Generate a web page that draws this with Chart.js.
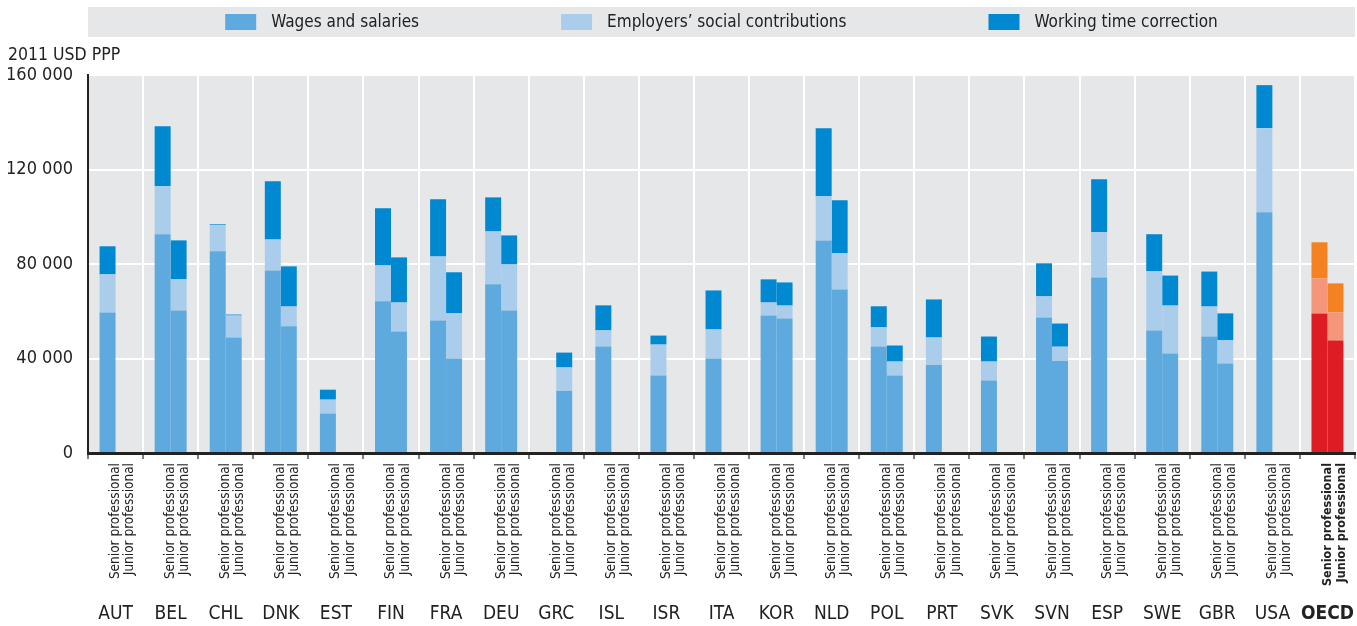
<!DOCTYPE html>
<html>
<head>
<meta charset="utf-8">
<script src="https://cdn.jsdelivr.net/npm/chart.js@4.4.1/dist/chart.umd.min.js"></script>
<style>
  html, body { margin: 0; padding: 0; background: #ffffff; }
  #wrap { width: 1357px; height: 626px; position: relative; }
</style>
</head>
<body>
<div id="wrap"><canvas id="c" width="1357" height="626"></canvas></div>
<script>
const countries = ['AUT','BEL','CHL','DNK','EST','FIN','FRA','DEU','GRC','ISL','ISR','ITA','KOR','NLD','POL','PRT','SVK','SVN','ESP','SWE','GBR','USA','OECD'];
const barLabels = ['Senior professional', 'Junior professional'];
const seriesNames = ['Wages and salaries', 'Employers\u2019 social contributions', 'Working time correction'];
const unitLabel = '2011 USD PPP';
const yTickValues = [0, 40000, 80000, 120000, 160000];

const seniorWages  = [59500, 92600, 85400, 77300, 16700, 64200, 56100, 71400, null, 45100, 32800, 40000, 58200, 90000, 45100, 37400, 30700, 57400, 74300, 51900, 49300, 101900, 59100];
const seniorSocial = [16100, 20300, 11000, 13100,  5900, 15200, 27100, 22400, null,  6800, 13100, 12300,  5500, 18700,  8100, 11500,  8000,  8900, 19100, 25000, 12700,  35600, 14800];
const seniorWtc    = [11900, 25400,   400, 24600,  4200, 24200, 24200, 14400, null, 10600,  3800, 16500,  9800, 28800,  8900, 16100, 10600, 14000, 22500, 15700, 14800,  18200, 15300];
const juniorWages  = [null, 60300, 48900, 53600, null, 51400, 40000, 60300, 26400, null, null, null, 56900, 69200, 32800, null, null, 39100, null, 42100, 37900, null, 47600];
const juniorSocial = [null, 13200,  9300,  8400, null, 12300, 19100, 19500,  9800, null, null, null,  5500, 15300,  5900, null, null,  5900, null, 20300,  9800, null, 11900];
const juniorWtc    = [null, 16500,   400, 17000, null, 19100, 17400, 12300,  6300, null, null, null,  9800, 22500,  6800, null, null,  9800, null, 12700, 11400, null, 12300];

const baseColors = ['#5ea9dd', '#abcdec', '#0089d0'];
const oecdColors = ['#dd1c24', '#f4967a', '#f58220'];
const FONT = '"DejaVu Sans Condensed", "Liberation Sans Narrow", sans-serif';

function colorsFor(i) {
  return countries.map(c => c === 'OECD' ? oecdColors[i] : baseColors[i]);
}
function fmt(v) {
  return String(v).replace(/\B(?=(\d{3})+(?!\d))/g, ' ');
}
const isLast = (ctx) => ctx.index === countries.length - 1;

const seniorSets = [seniorWages, seniorSocial, seniorWtc];
const juniorSets = [juniorWages, juniorSocial, juniorWtc];
const datasets = [];
seniorSets.forEach((d, i) => datasets.push({ label: seriesNames[i], data: d, stack: 'senior', backgroundColor: colorsFor(i), borderWidth: 0 }));
juniorSets.forEach((d, i) => datasets.push({ label: seriesNames[i], data: d, stack: 'junior', backgroundColor: colorsFor(i), borderWidth: 0 }));

const bgPlugin = {
  id: 'plotBg',
  beforeDraw(chart) {
    const { ctx, chartArea: a } = chart;
    ctx.save();
    ctx.fillStyle = '#e6e7e9';
    ctx.fillRect(a.left, a.top, a.right - a.left, a.bottom - a.top);
    ctx.restore();
  },
  afterDraw(chart) {
    const { ctx, chartArea: a } = chart;
    ctx.save();
    ctx.fillStyle = '#e6e7e9';
    ctx.fillRect(a.left, 7, a.right - a.left, 30);
    ctx.font = '17px ' + FONT;
    ctx.textBaseline = 'middle';
    const boxW = 31, boxH = 16, gapBT = 15, gap = 142;
    const widths = seriesNames.map(n => boxW + gapBT + ctx.measureText(n).width);
    const total = widths.reduce((s, w) => s + w, 0) + gap * (seriesNames.length - 1);
    let x = (a.left + a.right) / 2 - total / 2;
    seriesNames.forEach((n, i) => {
      ctx.fillStyle = baseColors[i];
      ctx.fillRect(x, 22 - boxH / 2, boxW, boxH);
      ctx.fillStyle = '#222';
      ctx.fillText(n, x + boxW + gapBT, 23);
      x += widths[i] + gap;
    });
    ctx.textBaseline = 'alphabetic';
    ctx.font = '17.5px ' + FONT;
    ctx.fillStyle = '#222';
    ctx.fillText(unitLabel, 8, 60);
    ctx.restore();
  }
};

function noSidePadding(scale) {
  scale.paddingLeft = 0;
  scale.paddingRight = 0;
}

new Chart(document.getElementById('c'), {
  type: 'bar',
  data: { labels: countries, datasets },
  plugins: [bgPlugin],
  options: {
    responsive: false,
    animation: false,
    devicePixelRatio: 1,
    layout: { padding: { top: 75, left: 8, right: 2, bottom: 0 } },
    plugins: { legend: { display: false }, tooltip: { enabled: false }, title: { display: false } },
    datasets: { bar: { categoryPercentage: 0.58, barPercentage: 1.0 } },
    scales: {
      x: {
        stacked: true,
        offset: true,
        grid: { display: true, offset: true, color: '#ffffff', lineWidth: 2, drawTicks: true, tickLength: 6, tickColor: '#555', tickWidth: 1.5 },
        border: { display: true, color: '#222', width: 3 },
        afterFit(scale) { scale.height = 136; noSidePadding(scale); },
        ticks: {
          autoSkip: false, minRotation: 90, maxRotation: 90, padding: 4, color: '#222',
          callback: () => barLabels,
          font: (ctx) => isLast(ctx)
            ? { family: FONT, size: 12.5, lineHeight: 1.12, weight: 'bold' }
            : { family: FONT, size: 13.5, lineHeight: 1.05, weight: 'normal' }
        }
      },
      x2: {
        type: 'category',
        labels: countries,
        position: 'bottom',
        offset: true,
        grid: { display: false, drawTicks: false },
        border: { display: false },
        afterFit(scale) { scale.height = 37; noSidePadding(scale); },
        ticks: {
          autoSkip: false, maxRotation: 0, minRotation: 0, padding: 14, color: '#222',
          font: (ctx) => ({ family: FONT, size: 19, weight: isLast(ctx) ? 'bold' : 'normal' })
        }
      },
      y: {
        stacked: true,
        min: 0, max: 160000,
        afterBuildTicks(scale) { scale.ticks = yTickValues.map(v => ({ value: v })); },
        afterFit(scale) { scale.width = 80; },
        grid: { color: '#ffffff', lineWidth: 2, drawTicks: false },
        border: { display: true, color: '#222', width: 2 },
        ticks: { padding: 15, color: '#222', font: { family: FONT, size: 18 }, callback: (v) => fmt(v) }
      }
    }
  }
});
</script>
</body>
</html>
